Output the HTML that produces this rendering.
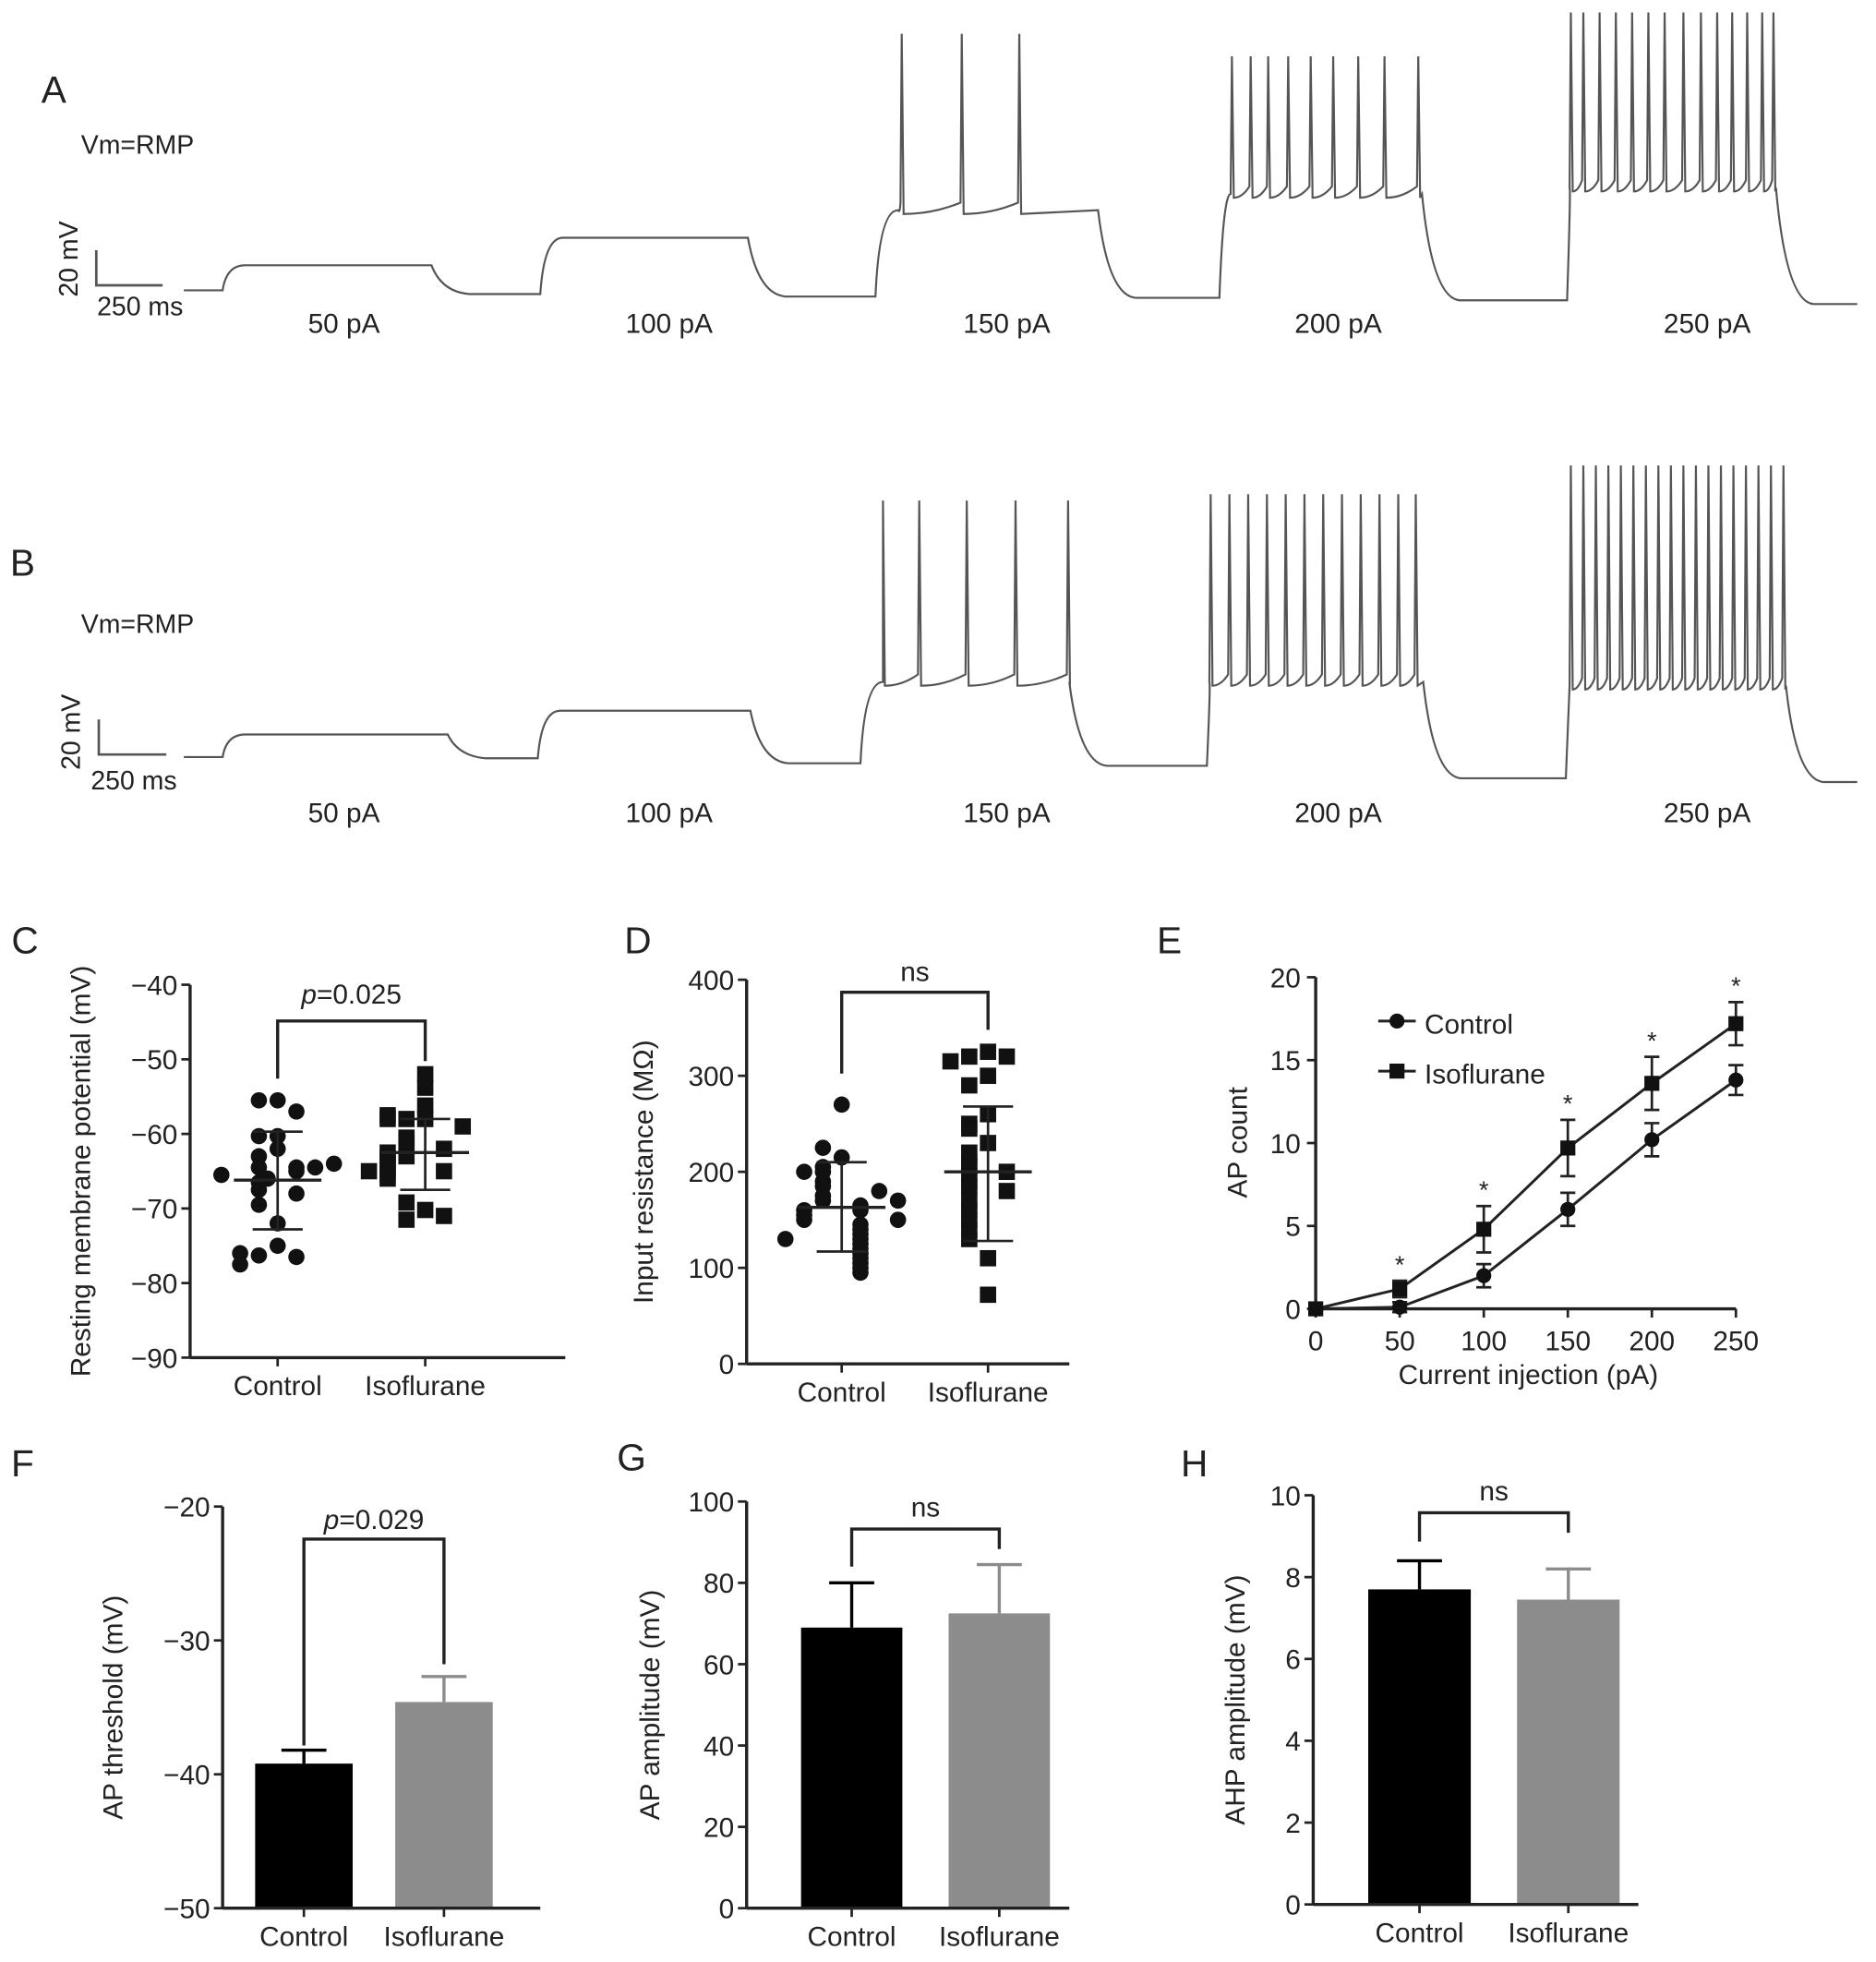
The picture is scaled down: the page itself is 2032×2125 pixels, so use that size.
<!DOCTYPE html>
<html><head><meta charset="utf-8"><style>
html,body{margin:0;padding:0;background:#fff;}
svg{display:block;}
text{font-family:"Liberation Sans",sans-serif;fill:#222;}
</style></head><body>
<svg id="fig" width="2032" height="2125" viewBox="0 0 1500 1568" preserveAspectRatio="none" xmlns="http://www.w3.org/2000/svg"></svg>
<script>
// ---------- DATA ----------
const traceA_steps = [[178,345,212,[]],[432,598,190,[]],[700,878,168,[721,769,815]],[975,1137,155,[985,1000,1014,1030,1048,1066,1086,1107,1134]],[1253,1420,150,[1256,1266,1279,1292,1305,1318,1331,1346,1360,1373,1385,1397,1409,1418]]];
const traceA_base = [232,235,237,238,240,243];
const traceA_top = [0,0,27,45,10];
const traceB_steps = [[178,358,587,[]],[430,600,568,[]],[688,855,545,[706,735,773,812,854]],[965,1138,545,[968,983,998,1013,1028,1043,1058,1073,1088,1103,1118,1132]],[1252,1428,548,[1256,1266,1276,1286,1296,1306,1316,1326,1336,1346,1356,1366,1376,1386,1396,1406,1416,1426]]];
const traceB_base = [605,606,610,612,622,625];
const traceB_top = [0,0,400,395,372];
const stepLabels = ["50 pA","100 pA","150 pA","200 pA","250 pA"];
const stepLabelX = [275,535,805,1070,1365];

const C_ticks = [-40,-50,-60,-70,-80,-90];
const C_control = [-55.5,-55.5,-57,-60.3,-60.3,-62,-63,-64.5,-64.5,-65,-64.5,-66.5,-67.5,-68,-69.5,-72,-75,-76.3,-76.5,-76,-77.5,-65.5,-64,-66];
const C_iso = [-52,-53.8,-56.2,-58,-58,-57.5,-58,-59,-60.5,-61,-62,-63,-62.5,-63.3,-64,-64.5,-65,-65.5,-66,-65,-70.2,-69.2,-71.5,-71];
const C_stats = [[-66.2,-59.7,-72.8],[-62.5,-58,-67.5]];

const D_ticks = [0,100,200,300,400];
const D_control = [270,215,205,225,200,190,185,175,170,165,160,160,155,150,145,140,135,130,125,120,115,110,105,100,95,180,150,130,200,170];
const D_iso = [325,320,320,315,300,290,260,250,245,230,220,210,205,200,190,185,180,170,160,150,140,130,110,72];
const D_stats = [[163,210,117],[200,268,128]];

const E_x = [0,50,100,150,200,250];
const E_control = [0,0.1,2,6,10.2,13.8];
const E_controlErr = [0,0.3,0.7,1,1,0.9];
const E_iso = [0,1.2,4.8,9.7,13.6,17.2];
const E_isoErr = [0,0.5,1.4,1.7,1.6,1.3];
const E_yTicks = [0,5,10,15,20];

const F_vals = [-39.2,-34.6]; const F_err = [1,1.9]; const F_ticks = [-20,-30,-40,-50];
const G_vals = [69,72.5]; const G_err = [11,12]; const G_ticks = [0,20,40,60,80,100];
const H_vals = [7.7,7.45]; const H_err = [0.7,0.75]; const H_ticks = [0,2,4,6,8,10];
const groups = ["Control","Isoflurane"];

// ---------- HELPERS ----------
const svg = document.getElementById('fig');
const NS = 'http://www.w3.org/2000/svg';
function mk(tag, attrs, parent){ const e=document.createElementNS(NS,tag); for(const k in attrs) e.setAttribute(k,attrs[k]); (parent||svg).appendChild(e); return e; }
function txt(s,x,y,size,anchor,parent,rot){ const t=mk('text',{x:x,y:y,'font-size':size,'text-anchor':anchor||'middle'},parent); if(rot) t.setAttribute('transform','rotate(-90 '+x+' '+y+')'); t.textContent=s; return t; }
function lin(a,b,c,d){ return v => c + (v-a)*(d-c)/(b-a); }

// ---------- TRACES ----------
function drawTrace(name, steps, base, tops, x0, x1, labelY){
  const g = mk('g',{});
  
  
  let d = 'M'+x0+' '+base[0];
  steps.forEach((s,i)=>{
    const [sx,ex,lvl,sp]=s;
    const riseEnd = sp.length && sp[0] < sx+18 ? sp[0]-1 : sx+18;
    d += ' L'+sx+' '+base[i]+' Q'+(sx+3)+' '+lvl+' '+riseEnd+' '+lvl;
    let cur = riseEnd;
    sp.forEach(t=>{
      if(t-1>cur){ const m=(cur+t)/2; d+=' Q'+m+' '+(lvl+3)+' '+(t-1)+' '+(lvl-6); }
      d += ' L'+t+' '+tops[i]+' L'+(t+1.5)+' '+(lvl+3);
      cur = t+1.5;
    });
    d += ' L'+ex+' '+lvl+' Q'+(ex+8)+' '+(base[i+1]-2)+' '+(ex+30)+' '+base[i+1];
    txt(stepLabels[i], stepLabelX[i], labelY, 22, 'middle');
  });
  d += ' L'+x1+' '+base[base.length-1];
  mk('path',{d:d,fill:'none',stroke:'#555','stroke-width':1.6},g);
}
txt('A',43,82,30,'middle');
txt('Vm=RMP',110,123,21,'middle');
mk('path',{d:'M77 200 L77 228 L130 228',fill:'none',stroke:'#555','stroke-width':2});
txt('20 mV',62,207,21,'middle',null,true);
txt('250 ms',112,252,21,'middle');
drawTrace('trace-a',traceA_steps,traceA_base,traceA_top,147,1485,266);

txt('B',18,460,30,'middle');
txt('Vm=RMP',110,506,21,'middle');
mk('path',{d:'M79 575 L79 603 L133 603',fill:'none',stroke:'#555','stroke-width':2});
txt('20 mV',64,585,21,'middle',null,true);
txt('250 ms',107,631,21,'middle');
drawTrace('trace-b',traceB_steps,traceB_base,traceB_top,147,1485,657);

// ---------- AXIS ----------
function axis(ax, x0, x1, yTop, yBot, ticks, ys, title, titleX, xlabels, xpos){
  mk('line',{x1:ax,y1:yTop,x2:ax,y2:yBot,stroke:'#222','stroke-width':2.5});
  mk('line',{x1:ax,y1:yBot,x2:x1,y2:yBot,stroke:'#222','stroke-width':2.5});
  ticks.forEach(v=>{ const y=ys(v); mk('line',{x1:ax-7,y1:y,x2:ax,y2:y,stroke:'#222','stroke-width':2});
    txt(String(v).replace('-','\u2212'),ax-10,y+8,22,'end'); });
  if(xlabels) xlabels.forEach((l,i)=>{ mk('line',{x1:xpos[i],y1:yBot,x2:xpos[i],y2:yBot+7,stroke:'#222','stroke-width':2}); txt(l,xpos[i],yBot+30,22,'middle'); });
  txt(title,titleX,(yTop+yBot)/2,22,'middle',null,true);
}
function bracket(xa,xb,y,ya,yb,label,ly,italic){
  mk('path',{d:'M'+xa+' '+ya+' L'+xa+' '+y+' L'+xb+' '+y+' L'+xb+' '+yb,fill:'none',stroke:'#222','stroke-width':2.5});
  const t=txt(label,(xa+xb)/2,ly,22,'middle');
  if(italic){ t.textContent=''; const a=mk('tspan',{'font-style':'italic'},t); a.textContent='p'; const b=mk('tspan',{},t); b.textContent=label.slice(1); }
}

// ---------- C ----------
txt('C',20,762,30,'middle');
const yC = lin(-40,-90,787,1085);
axis(152,152,452,787,1085,C_ticks,yC,'Resting membrane potential (mV)',72,groups,[222,340]);
const jitter = [0,-15,15,-30,30,-45,45,-8,8,-22,22,-38,38];
function scatter(vals, cx, ys, shape){
  const g=mk('g',{});
  
  
  const placed=[];
  vals.forEach(v=>{
    const y=ys(v);
    const near = placed.filter(p=>Math.abs(p-y)<10).length;
    placed.push(y);
    const x=cx+jitter[near%jitter.length];
    if(shape=='c') mk('circle',{cx:x,cy:y,r:6.5,fill:'#111'},g);
    else mk('rect',{x:x-6.5,y:y-6.5,width:13,height:13,fill:'#111'},g);
  });
}
function meanSD(cx, st, ys){
  mk('line',{x1:cx,y1:ys(st[1]),x2:cx,y2:ys(st[2]),stroke:'#222','stroke-width':2});
  mk('line',{x1:cx-20,y1:ys(st[1]),x2:cx+20,y2:ys(st[1]),stroke:'#222','stroke-width':2});
  mk('line',{x1:cx-20,y1:ys(st[2]),x2:cx+20,y2:ys(st[2]),stroke:'#222','stroke-width':2});
  mk('line',{x1:cx-35,y1:ys(st[0]),x2:cx+35,y2:ys(st[0]),stroke:'#222','stroke-width':2.5});
}
scatter(C_control,222,yC,'c'); scatter(C_iso,340,yC,'s');
meanSD(222,C_stats[0],yC); meanSD(340,C_stats[1],yC);
bracket(222,340,816,862,848,'p=0.025',802,true);

// ---------- D ----------
txt('D',510,762,30,'middle');
const yD = lin(0,400,1090,783);
axis(597,597,855,783,1090,D_ticks,yD,'Input resistance (M\u03A9)',522,groups,[673,790]);
scatter(D_control,673,yD,'c'); scatter(D_iso,790,yD,'s');
meanSD(673,D_stats[0],yD); meanSD(790,D_stats[1],yD);
bracket(673,790,793,858,823,'ns',784,false);

// ---------- E ----------
txt('E',935,762,30,'middle');
const yE = lin(0,20,1046,781), xE = lin(0,250,1052,1388);
mk('line',{x1:1052,y1:781,x2:1052,y2:1046,stroke:'#222','stroke-width':2.5});
mk('line',{x1:1052,y1:1046,x2:1388,y2:1046,stroke:'#222','stroke-width':2.5});
E_yTicks.forEach(v=>{ mk('line',{x1:1045,y1:yE(v),x2:1052,y2:yE(v),stroke:'#222','stroke-width':2}); txt(String(v),1040,yE(v)+8,22,'end'); });
E_x.forEach(v=>{ mk('line',{x1:xE(v),y1:1046,x2:xE(v),y2:1053,stroke:'#222','stroke-width':2}); txt(String(v),xE(v),1079,22,'middle'); });
txt('Current injection (pA)',1222,1106,22,'middle');
txt('AP count',997,913,22,'middle',null,true);
function series(vals, errs, shape, name){
  const g=mk('g',{});
  
  
  mk('polyline',{points:vals.map((v,i)=>xE(E_x[i])+','+yE(v)).join(' '),fill:'none',stroke:'#222','stroke-width':2.2},g);
  vals.forEach((v,i)=>{ const x=xE(E_x[i]);
    if(errs[i]>0){ mk('path',{d:'M'+(x-6)+' '+yE(v+errs[i])+' H'+(x+6)+' M'+x+' '+yE(v+errs[i])+' V'+yE(v-errs[i])+' M'+(x-6)+' '+yE(v-errs[i])+' H'+(x+6),stroke:'#222','stroke-width':2,fill:'none'},g); }
    if(shape=='c') mk('circle',{cx:x,cy:yE(v),r:6,fill:'#111'},g); else mk('rect',{x:x-6,y:yE(v)-6,width:12,height:12,fill:'#111'},g);
  });
}
series(E_control,E_controlErr,'c','control-series');
series(E_iso,E_isoErr,'s','isoflurane-series');
E_iso.forEach((v,i)=>{ if(i>0) txt('*',xE(E_x[i]),yE(v+E_isoErr[i])-6,20,'middle'); });
const lg=mk('g',{});  
mk('line',{x1:1102,y1:816,x2:1132,y2:816,stroke:'#222','stroke-width':2.2},lg); mk('circle',{cx:1117,cy:816,r:6,fill:'#111'},lg);
txt('Control',1139,826,22,'start',lg);
mk('line',{x1:1102,y1:856,x2:1132,y2:856,stroke:'#222','stroke-width':2.2},lg); mk('rect',{x:1111,y:850,width:12,height:12,fill:'#111'},lg);
txt('Isoflurane',1139,866,22,'start',lg);

// ---------- BAR PANELS ----------
function barPanel(letter, lx, ly, ax, x1, yTop, yBot, ticks, vals, errs, centers, w, title, titleX, br){
  txt(letter,lx,ly,30,'middle');
  const lo=Math.min(ticks[0],ticks[ticks.length-1]);
  const hi=Math.max(ticks[0],ticks[ticks.length-1]);
  const ys=lin(lo,hi,yBot,yTop);
  vals.forEach((v,i)=>{
    const r=mk('rect',{x:centers[i]-w/2,y:ys(v),width:w,height:yBot-ys(v),fill:i==0?'#000':'#8c8c8c'});
    
    
    mk('path',{d:'M'+centers[i]+' '+ys(v)+' V'+ys(v+errs[i])+' M'+(centers[i]-18)+' '+ys(v+errs[i])+' H'+(centers[i]+18),stroke:i==0?'#000':'#8c8c8c','stroke-width':2.5,fill:'none'});
  });
  axis(ax,ax,x1,yTop,yBot,ticks,ys,title,titleX,groups,centers);
  bracket(centers[0],centers[1],br[0],br[1],br[2],br[3],br[4],br[5]);
}
barPanel('F',18,1180,178,432,1204,1525,F_ticks,F_vals,F_err,[243,355],78,'AP threshold (mV)',98,[1230,1395,1330,'p=0.029',1222,true]);
barPanel('G',505,1175,597,855,1200,1525,G_ticks,G_vals,G_err,[681,799],81,'AP amplitude (mV)',527,[1222,1252,1238,'ns',1212,false]);
barPanel('H',955,1180,1050,1310,1195,1522,H_ticks,H_vals,H_err,[1135,1254],82,'AHP amplitude (mV)',995,[1209,1232,1225,'ns',1199,false]);
</script>
</body></html>
